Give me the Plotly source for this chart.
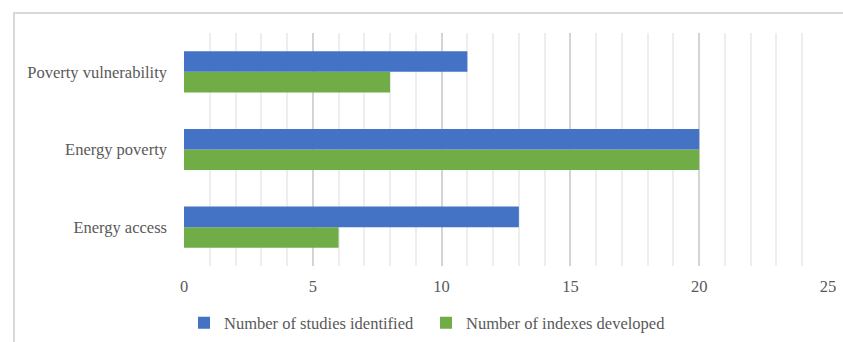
import plotly.graph_objects as go

categories = ["Energy access", "Energy poverty", "Poverty vulnerability"]
studies_identified = [13, 20, 11]
indexes_developed = [6, 20, 8]
x_ticks = [0, 5, 10, 15, 20, 25]

BLUE = "#4472C4"
GREEN = "#70AD47"
TEXT = "#595959"
FONT = "Liberation Serif"

fig = go.Figure()
# green first so that the blue bar sits above it within each group
fig.add_trace(go.Bar(
    y=categories, x=indexes_developed, orientation="h",
    name="Number of indexes developed", marker=dict(color=GREEN, line=dict(width=0)),
))
fig.add_trace(go.Bar(
    y=categories, x=studies_identified, orientation="h",
    name="Number of studies identified", marker=dict(color=BLUE, line=dict(width=0)),
))

fig.update_layout(
    width=843, height=342,
    margin=dict(l=184, r=15, t=33, b=76, autoexpand=False),
    paper_bgcolor="white", plot_bgcolor="white",
    barmode="group", bargap=0.47, bargroupgap=0,
    font=dict(family=FONT, size=16.5, color=TEXT),
    showlegend=True,
    legend=dict(
        orientation="h", traceorder="reversed",
        x=0, xanchor="left", y=-0.245, yanchor="middle",
        font=dict(family=FONT, size=16.5, color=TEXT),
        itemwidth=30, bgcolor="rgba(0,0,0,0)",
        entrywidth=197, entrywidthmode="pixels",
    ),
    shapes=[dict(
        type="rect", xref="paper", yref="paper",
        x0=-170 / 644, x1=1 + 40 / 644, y0=-1.0, y1=1 + 20 / 233,
        line=dict(color="#D9D9D9", width=2), fillcolor="rgba(0,0,0,0)", layer="below",
    )],
)

fig.update_xaxes(
    range=[0, 25], tickvals=x_ticks, ticktext=[str(v) for v in x_ticks],
    showgrid=True, gridcolor="#D4D4D4", gridwidth=1.5,
    minor=dict(dtick=1, showgrid=True, gridcolor="#EEEEEE", gridwidth=1.5),
    zeroline=False, showline=False, ticks="", automargin=False,
    ticklabelstandoff=8,
    tickfont=dict(family=FONT, size=16.5, color=TEXT),
)
fig.update_yaxes(
    showgrid=False, zeroline=False, showline=False, ticks="", automargin=False,
    ticklabelstandoff=16,
    tickfont=dict(family=FONT, size=16.5, color=TEXT),
)

fig.write_html("out.html")
